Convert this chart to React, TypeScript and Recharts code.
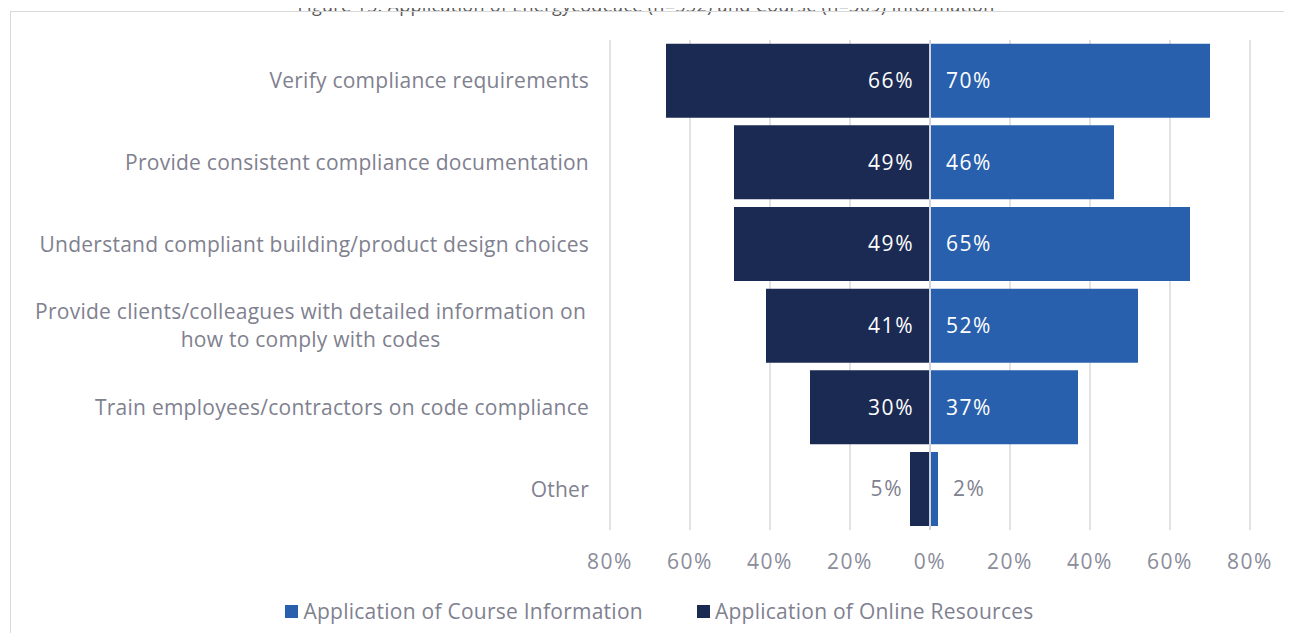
import React from "react";
import { BarChart, Bar, XAxis, YAxis, CartesianGrid, LabelList, ReferenceLine } from "recharts";

const categories = [
  "Verify compliance requirements",
  "Provide consistent compliance documentation",
  "Understand compliant building/product design choices",
  "Provide clients/colleagues with detailed information on |how to comply with codes",
  "Train employees/contractors on code compliance",
  "Other",
];
const onlineValues = [66, 49, 49, 41, 30, 5];
const courseValues = [70, 46, 65, 52, 37, 2];
const xTicks = [-80, -60, -40, -20, 0, 20, 40, 60, 80];

const data = categories.map((name, i) => ({
  name,
  online: -onlineValues[i],
  course: courseValues[i],
}));

const FONT = "'Open Sans', sans-serif";
const FS = 21;
const LS = 0.25;
const NUM_LS = 1.5;
const TEXT = "#80818f";
const NAVY = "#1b2a52";
const BLUE = "#2860ad";

let measureCtx: CanvasRenderingContext2D | null = null;
function textWidth(s: string, size: number) {
  if (!measureCtx) measureCtx = document.createElement("canvas").getContext("2d");
  if (!measureCtx) return s.length * size * 0.5;
  measureCtx.font = `${size}px 'Open Sans'`;
  return measureCtx.measureText(s).width + s.length * LS;
}

function CategoryTick(props: any) {
  const { x, y, payload } = props;
  const lines = String(payload.value).split("|");
  const right = x - 13;
  if (lines.length === 1) {
    return (
      <text x={right} y={y} dy="0.35em" textAnchor="end" fill={TEXT} fontSize={FS} fontFamily={FONT} letterSpacing={LS}>
        {lines[0]}
      </text>
    );
  }
  const w = Math.max(...lines.map((l) => textWidth(l, FS)));
  const cx = right - w / 2;
  return (
    <text textAnchor="middle" fill={TEXT} fontSize={FS} fontFamily={FONT} letterSpacing={LS}>
      {lines.map((l, i) => (
        <tspan key={i} x={cx} y={y + (i - (lines.length - 1) / 2) * 28} dy="0.35em">
          {l.trim()}
        </tspan>
      ))}
    </text>
  );
}

function makeLabel(side: "left" | "right") {
  return (props: any) => {
    const { x, y, width, height, value } = props;
    const v = Math.abs(Number(value));
    const l = Math.min(x, x + width);
    const r = Math.max(x, x + width);
    const cy = y + height / 2;
    const inside = v >= 10;
    let tx: number;
    let anchor: "start" | "end";
    if (side === "left") {
      tx = inside ? r - 16 : l - 7;
      anchor = "end";
    } else {
      tx = inside ? l + 16 : r + 15;
      anchor = "start";
    }
    return (
      <text x={tx} y={cy} dy="0.35em" textAnchor={anchor} fill={inside ? "#ffffff" : TEXT}
        fontSize={FS} fontFamily={FONT} letterSpacing={NUM_LS}>
        {v}%
      </text>
    );
  };
}

export default function App() {
  return (
    <div style={{ position: "relative", width: 1292, height: 641, margin: -8, overflow: "hidden", background: "#fff" }}>
      <div
        style={{
          position: "absolute", left: 0, width: 1292, top: -6, textAlign: "center",
          fontFamily: FONT, fontSize: 18, letterSpacing: 0.3, lineHeight: "22px", color: "#595959",
        }}
      >
        Figure 15: Application of Energycodeace (n=552) and Course (n=309) Information
      </div>
      <div style={{ position: "absolute", left: 10, top: 11, width: 1300, height: 660, border: "1px solid #d9d9d9" }} />
      <div style={{ position: "absolute", left: 0, top: 0 }}>
        <BarChart
          width={1292}
          height={641}
          data={data}
          layout="vertical"
          stackOffset="sign"
          barCategoryGap="4.5%"
          margin={{ top: 40, right: 42, bottom: 51, left: 0 }}
        >
          <CartesianGrid horizontal={false} stroke="#d9d9d9" strokeWidth={1.5} />
          <XAxis
            type="number"
            domain={[-80, 80]}
            ticks={xTicks}
            tickFormatter={(v: number) => `${Math.abs(v)}%`}
            axisLine={false}
            tickLine={false}
            height={60}
            tickMargin={18}
            tick={{ fill: "#8b8c9a", fontSize: FS, fontFamily: FONT, letterSpacing: NUM_LS }}
          />
          <YAxis
            type="category"
            dataKey="name"
            width={610}
            axisLine={false}
            tickLine={false}
            tick={<CategoryTick />}
            interval={0}
          />
          <Bar dataKey="online" stackId="a" fill={NAVY} isAnimationActive={false}>
            <LabelList dataKey="online" content={makeLabel("left")} />
          </Bar>
          <Bar dataKey="course" stackId="a" fill={BLUE} isAnimationActive={false}>
            <LabelList dataKey="course" content={makeLabel("right")} />
          </Bar>
          <ReferenceLine x={0} stroke="#d0d3dc" strokeWidth={2} />
        </BarChart>
      </div>
      <div
        style={{
          position: "absolute", top: 597, left: 0, width: 1292, display: "flex", justifyContent: "center",
          gap: 54, fontFamily: FONT, fontSize: FS, letterSpacing: LS, color: TEXT, paddingLeft: 27, boxSizing: "border-box",
        }}
      >
        <span style={{ display: "flex", alignItems: "center" }}>
          <span style={{ width: 13, height: 13, background: BLUE, marginRight: 5, display: "inline-block" }} />
          Application of Course Information
        </span>
        <span style={{ display: "flex", alignItems: "center" }}>
          <span style={{ width: 13, height: 13, background: NAVY, marginRight: 5, display: "inline-block" }} />
          Application of Online Resources
        </span>
      </div>
    </div>
  );
}
